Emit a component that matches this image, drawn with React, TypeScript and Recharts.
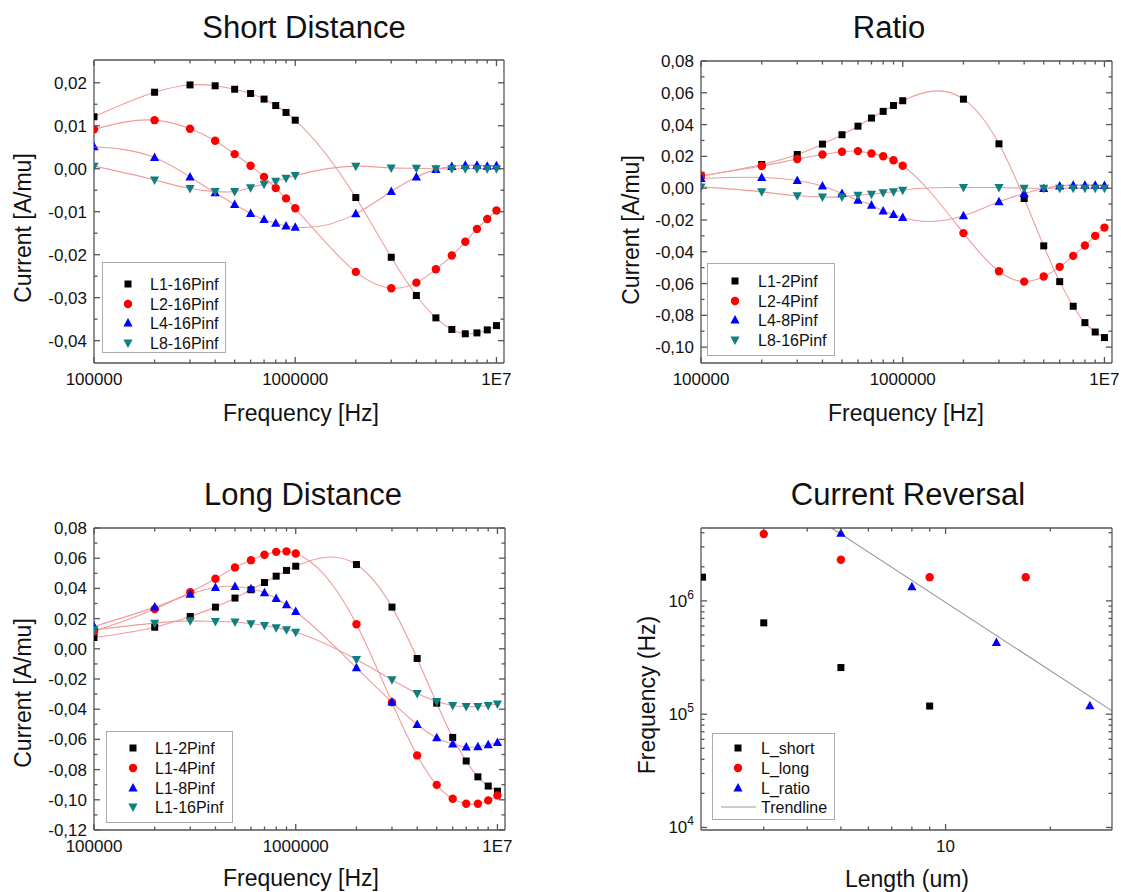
import React from "react";
import { ComposedChart, Line, Scatter, XAxis, YAxis } from "recharts";

const font = '"Liberation Sans", Arial, sans-serif';

const freqs = [
  1e5, 2e5, 3e5, 4e5, 5e5, 6e5, 7e5, 8e5, 9e5,
  1e6, 2e6, 3e6, 4e6, 5e6, 6e6, 7e6, 8e6, 9e6, 1e7,
];

// Short Distance
const shortL1 = [0.0121, 0.0178, 0.0195, 0.0193, 0.0185, 0.0175, 0.0162, 0.0147, 0.0131, 0.0113, -0.0067, -0.0206, -0.0295, -0.0347, -0.0374, -0.0384, -0.0382, -0.0375, -0.0365];
const shortL2 = [0.0092, 0.0113, 0.0093, 0.0065, 0.0034, 0.0007, -0.0019, -0.0045, -0.0069, -0.0092, -0.0240, -0.0278, -0.0265, -0.0234, -0.0202, -0.0170, -0.0140, -0.0117, -0.0097];
const shortL4 = [0.0051, 0.0026, -0.0019, -0.0056, -0.0083, -0.0104, -0.0118, -0.0127, -0.0133, -0.0136, -0.0105, -0.0053, -0.0019, -0.0002, 0.0005, 0.0008, 0.0008, 0.0006, 0.0007];
const shortL8 = [0.0006, -0.0026, -0.0046, -0.0053, -0.0053, -0.0044, -0.0036, -0.0029, -0.0022, -0.0016, 0.0006, 0.0002, 0.0001, 0.0, 0.0, 0.0, 0.0, 0.0, 0.0];

// Ratio
const ratioL1 = [0.0076, 0.0149, 0.0212, 0.0277, 0.0336, 0.039, 0.0441, 0.0483, 0.052, 0.055, 0.056, 0.0279, -0.0065, -0.0363, -0.0588, -0.0743, -0.0846, -0.0905, -0.094];
const ratioL2 = [0.0078, 0.0139, 0.0183, 0.0212, 0.0229, 0.0233, 0.0218, 0.0201, 0.0176, 0.0141, -0.0283, -0.0523, -0.0588, -0.0556, -0.0495, -0.0426, -0.0361, -0.030, -0.0248];
const ratioL4 = [0.0061, 0.0067, 0.0048, 0.0013, -0.0034, -0.0076, -0.0107, -0.0143, -0.0166, -0.0185, -0.0174, -0.0086, -0.0034, -0.0002, 0.0013, 0.0019, 0.0019, 0.0019, 0.0017];
const ratioL8 = [0.0008, -0.0023, -0.0048, -0.0055, -0.0055, -0.0044, -0.0038, -0.0029, -0.0023, -0.0013, 0.0004, 0.0004, 0.0, 0.0, 0.0, 0.0, 0.0, 0.0, 0.0];

// Long Distance
const longL2 = [0.0075, 0.0143, 0.0214, 0.0276, 0.0336, 0.0391, 0.0439, 0.0481, 0.0519, 0.0547, 0.0558, 0.0276, -0.0064, -0.036, -0.0587, -0.0743, -0.0848, -0.0909, -0.0943];
const longL4 = [0.0115, 0.0263, 0.0375, 0.0464, 0.0539, 0.0587, 0.0623, 0.0642, 0.0645, 0.0631, 0.0163, -0.0355, -0.0706, -0.0901, -0.0993, -0.1026, -0.1026, -0.1004, -0.0971];
const longL8 = [0.0148, 0.0276, 0.0362, 0.0406, 0.0413, 0.0397, 0.0371, 0.0333, 0.0291, 0.0247, -0.0126, -0.0353, -0.0501, -0.0589, -0.0631, -0.0651, -0.0649, -0.0636, -0.062];
const longL16 = [0.0126, 0.017, 0.0185, 0.0181, 0.0177, 0.0166, 0.0155, 0.0139, 0.0126, 0.011, -0.0071, -0.0205, -0.0296, -0.0349, -0.0375, -0.0382, -0.0382, -0.0375, -0.0366];

// Current Reversal (length um, frequency Hz)
const revShort = [{ x: 2, y: 1.62e6 }, { x: 3, y: 6.4e5 }, { x: 5, y: 2.58e5 }, { x: 9, y: 1.18e5 }];
const revLong = [{ x: 3, y: 3.9e6 }, { x: 5, y: 2.31e6 }, { x: 9, y: 1.62e6 }, { x: 17, y: 1.62e6 }];
const revRatio = [{ x: 5, y: 3.95e6 }, { x: 8, y: 1.33e6 }, { x: 14, y: 4.3e5 }, { x: 26, y: 1.19e5 }];
const trendline = [{ x: 4.7, y: 4.4e6 }, { x: 30.1, y: 1.07e5 }];

// ticks
const fMajor = [1e5, 1e6, 1e7];
const fMinor = [2e5, 3e5, 4e5, 5e5, 6e5, 7e5, 8e5, 9e5, 2e6, 3e6, 4e6, 5e6, 6e6, 7e6, 8e6, 9e6];
const shortMajor = [-0.04, -0.03, -0.02, -0.01, 0, 0.01, 0.02];
const shortMinor = [-0.035, -0.025, -0.015, -0.005, 0.005, 0.015];
const ratioMajor = [-0.1, -0.08, -0.06, -0.04, -0.02, 0, 0.02, 0.04, 0.06, 0.08];
const ratioMinor = [-0.09, -0.07, -0.05, -0.03, -0.01, 0.01, 0.03, 0.05, 0.07];
const longMajor = [-0.12, -0.1, -0.08, -0.06, -0.04, -0.02, 0, 0.02, 0.04, 0.06, 0.08];
const longMinor = [-0.11, -0.09, -0.07, -0.05, -0.03, -0.01, 0.01, 0.03, 0.05, 0.07];
const lenMajor = [10];
const lenMinor = [3, 4, 5, 6, 7, 8, 9, 20];
const hzMajor = [1e4, 1e5, 1e6];
const hzMinor = [2e4, 3e4, 4e4, 5e4, 6e4, 7e4, 8e4, 9e4, 2e5, 3e5, 4e5, 5e5, 6e5, 7e5, 8e5, 9e5, 2e6, 3e6, 4e6];

const FRAME = "#555";
const FIT = "#ef9c9c";

type Kind = "square" | "circle" | "up" | "down";

const Marker = ({ kind, cx, cy, color }: { kind: Kind; cx?: number; cy?: number; color: string }) => {
  if (cx == null || cy == null || isNaN(cx) || isNaN(cy)) return null;
  if (kind === "square") return <rect x={cx - 3.5} y={cy - 3.5} width={7} height={7} fill={color} />;
  if (kind === "circle") return <circle cx={cx} cy={cy} r={4.2} fill={color} />;
  if (kind === "up")
    return <polygon points={`${cx},${cy - 5} ${cx + 4.6},${cy + 3.5} ${cx - 4.6},${cy + 3.5}`} fill={color} />;
  return <polygon points={`${cx},${cy + 5} ${cx + 4.6},${cy - 3.5} ${cx - 4.6},${cy - 3.5}`} fill={color} />;
};

// cubic spline y(x) through the points (natural end conditions)
const splineX = (context: any) => {
  let xs: number[] = [];
  let ys: number[] = [];
  return {
    areaStart() {},
    areaEnd() {},
    lineStart() {
      xs = [];
      ys = [];
    },
    point(x: number, y: number) {
      xs.push(+x);
      ys.push(+y);
    },
    lineEnd() {
      const n = xs.length;
      if (!n) return;
      context.moveTo(xs[0], ys[0]);
      if (n < 3) {
        for (let i = 1; i < n; i++) context.lineTo(xs[i], ys[i]);
        return;
      }
      const h: number[] = [];
      for (let i = 0; i < n - 1; i++) h.push(xs[i + 1] - xs[i]);
      const M = new Array(n).fill(0);
      const a: number[] = [], b: number[] = [], c: number[] = [], d: number[] = [];
      for (let i = 1; i < n - 1; i++) {
        a.push(h[i - 1]);
        b.push(2 * (h[i - 1] + h[i]));
        c.push(h[i]);
        d.push(6 * ((ys[i + 1] - ys[i]) / h[i] - (ys[i] - ys[i - 1]) / h[i - 1]));
      }
      const m = b.length;
      for (let i = 1; i < m; i++) {
        const w = a[i] / b[i - 1];
        b[i] -= w * c[i - 1];
        d[i] -= w * d[i - 1];
      }
      const sol = new Array(m).fill(0);
      sol[m - 1] = d[m - 1] / b[m - 1];
      for (let i = m - 2; i >= 0; i--) sol[i] = (d[i] - c[i] * sol[i + 1]) / b[i];
      for (let i = 0; i < m; i++) M[i + 1] = sol[i];
      for (let i = 0; i < n - 1; i++) {
        const s = (ys[i + 1] - ys[i]) / h[i];
        const m0 = s - (h[i] * (2 * M[i] + M[i + 1])) / 6;
        const m1 = s + (h[i] * (M[i] + 2 * M[i + 1])) / 6;
        context.bezierCurveTo(
          xs[i] + h[i] / 3, ys[i] + (m0 * h[i]) / 3,
          xs[i + 1] - h[i] / 3, ys[i + 1] - (m1 * h[i]) / 3,
          xs[i + 1], ys[i + 1]
        );
      }
    },
  };
};

const near = (list: number[], v: number) => list.some((t) => Math.abs(t - v) <= Math.abs(t) * 1e-6 + 1e-9);
const comma = (v: number) => (Math.abs(v) < 1e-9 ? 0 : v).toFixed(2).replace(".", ",");
const freqLabel = (v: number) => (v >= 1e7 ? "1E7" : String(Math.round(v)));
const powLabel = (v: number) => (
  <>
    10<tspan dy={-8} fontSize={12}>{Math.round(Math.log10(v))}</tspan>
  </>
);

const makeTick =
  (side: "bottom" | "top" | "left" | "right", majors: number[], label?: (v: number) => React.ReactNode) =>
  (props: any) => {
    const { x, y, payload } = props;
    const v = payload.value;
    const major = near(majors, v);
    const len = major ? 6 : 3.5;
    let line;
    if (side === "bottom") line = <line x1={x} y1={y} x2={x} y2={y - len} />;
    else if (side === "top") line = <line x1={x} y1={y} x2={x} y2={y + len} />;
    else if (side === "left") line = <line x1={x} y1={y} x2={x + len} y2={y} />;
    else line = <line x1={x} y1={y} x2={x - len} y2={y} />;
    return (
      <g>
        <g stroke={FRAME} strokeWidth={1.3}>{line}</g>
        {major && label && side === "bottom" && (
          <text x={x} y={y + 22} textAnchor="middle" fontSize={17} fill="#111" fontFamily={font}>
            {label(v)}
          </text>
        )}
        {major && label && side === "left" && (
          <text x={x - 7} y={y + 6} textAnchor="end" fontSize={17} fill="#111" fontFamily={font}>
            {label(v)}
          </text>
        )}
      </g>
    );
  };

type Series = { key: string; name: string; kind: Kind; color: string; values: number[] };
type LegendItem = { name: string; kind: Kind | "line"; color: string };

const LegendBox = ({ left, top, width, height, rows, markerX, textX, items }: {
  left: number; top: number; width: number; height: number; rows: number[];
  markerX: number; textX: number; items: LegendItem[];
}) => (
  <svg style={{ position: "absolute", left, top }} width={width + 1} height={height + 1}>
    <rect x={0.5} y={0.5} width={width} height={height} fill="#fff" stroke="#aaa" strokeWidth={1} />
    {items.map((it, i) => (
      <g key={it.name}>
        {it.kind === "line" ? (
          <line x1={9} x2={44} y1={rows[i]} y2={rows[i]} stroke={it.color} strokeWidth={1.2} />
        ) : (
          <Marker kind={it.kind} cx={markerX} cy={rows[i]} color={it.color} />
        )}
        <text x={textX} y={rows[i] + 6} fontSize={16} fill="#111" fontFamily={font}>
          {it.name}
        </text>
      </g>
    ))}
  </svg>
);

const Text = ({ x, y, size, children, rotate }: { x: number; y: number; size: number; children: React.ReactNode; rotate?: boolean }) => (
  <div
    style={{
      position: "absolute", left: x, top: y, fontSize: size, fontFamily: font, color: "#111",
      whiteSpace: "nowrap", lineHeight: 1,
      transform: `translate(-50%, -50%)${rotate ? " rotate(-90deg)" : ""}`,
    }}
  >
    {children}
  </div>
);

// axes take 1px each so Recharts still renders them; margins are reduced by that pixel
const inner = (m: { top: number; right: number; bottom: number; left: number }) => ({
  top: m.top - 1, right: m.right - 1, bottom: m.bottom - 1, left: m.left - 1,
});

const FreqPanel = ({ left, top, margin, series, yDomain, yMajor, yMinor }: {
  left: number; top: number; margin: { top: number; right: number; bottom: number; left: number };
  series: Series[]; yDomain: [number, number]; yMajor: number[]; yMinor: number[];
}) => {
  const rows = freqs.map((f, i) => {
    const r: Record<string, number> = { f };
    series.forEach((s) => (r[s.key] = s.values[i]));
    return r;
  });
  const xDomain: [number, number] = [1e5, 1.09e7];
  const fTicks = [...fMajor, ...fMinor];
  const yTicks = [...yMajor, ...yMinor];
  const axisLine = { stroke: FRAME, strokeWidth: 1.3 };
  return (
    <div style={{ position: "absolute", left, top }}>
      <ComposedChart width={560} height={446} data={rows} margin={inner(margin)}>
        <XAxis dataKey="f" type="number" scale="log" domain={xDomain} allowDataOverflow ticks={fTicks}
          interval={0} height={1} tickSize={0} tickMargin={0} axisLine={axisLine} tickLine={false}
          tick={makeTick("bottom", fMajor, freqLabel)} />
        <XAxis xAxisId="top" orientation="top" dataKey="f" type="number" scale="log" domain={xDomain}
          allowDataOverflow ticks={fTicks} interval={0} height={1} tickSize={0} tickMargin={0}
          axisLine={axisLine} tickLine={false} tick={makeTick("top", fMajor)} />
        <YAxis type="number" domain={yDomain} allowDataOverflow ticks={yTicks} interval={0} width={1}
          tickSize={0} tickMargin={0} axisLine={axisLine} tickLine={false} tick={makeTick("left", yMajor, comma)} />
        <YAxis yAxisId="right" orientation="right" type="number" domain={yDomain} allowDataOverflow
          ticks={yTicks} interval={0} width={1} tickSize={0} tickMargin={0} axisLine={axisLine}
          tickLine={false} tick={makeTick("right", yMajor)} />
        {series.map((s) => (
          <Line key={`fit-${s.key}`} dataKey={s.key} type={splineX as any} stroke={FIT} strokeWidth={1.1}
            dot={false} activeDot={false} isAnimationActive={false} />
        ))}
        {series.map((s) => (
          <Line key={`pts-${s.key}`} dataKey={s.key} name={s.name} stroke="none" activeDot={false}
            isAnimationActive={false}
            dot={(p: any) => <Marker key={`${s.key}-${p.index}`} kind={s.kind} cx={p.cx} cy={p.cy} color={s.color} />} />
        ))}
      </ComposedChart>
    </div>
  );
};

const BLACK = "#000000";
const RED = "#ff0000";
const BLUE = "#0000ff";
const TEAL = "#0f8080";

const shortSeries: Series[] = [
  { key: "a", name: "L1-16Pinf", kind: "square", color: BLACK, values: shortL1 },
  { key: "b", name: "L2-16Pinf", kind: "circle", color: RED, values: shortL2 },
  { key: "c", name: "L4-16Pinf", kind: "up", color: BLUE, values: shortL4 },
  { key: "d", name: "L8-16Pinf", kind: "down", color: TEAL, values: shortL8 },
];
const ratioSeries: Series[] = [
  { key: "a", name: "L1-2Pinf", kind: "square", color: BLACK, values: ratioL1 },
  { key: "b", name: "L2-4Pinf", kind: "circle", color: RED, values: ratioL2 },
  { key: "c", name: "L4-8Pinf", kind: "up", color: BLUE, values: ratioL4 },
  { key: "d", name: "L8-16Pinf", kind: "down", color: TEAL, values: ratioL8 },
];
const longSeries: Series[] = [
  { key: "a", name: "L1-2Pinf", kind: "square", color: BLACK, values: longL2 },
  { key: "b", name: "L1-4Pinf", kind: "circle", color: RED, values: longL4 },
  { key: "c", name: "L1-8Pinf", kind: "up", color: BLUE, values: longL8 },
  { key: "d", name: "L1-16Pinf", kind: "down", color: TEAL, values: longL16 },
];

const ReversalPanel = ({ left, top }: { left: number; top: number }) => {
  const axisLine = { stroke: FRAME, strokeWidth: 1.3 };
  const xDomain: [number, number] = [1.98, 30.1];
  const yDomain: [number, number] = [9.5e3, 4.4e6];
  const xTicks = [...lenMajor, ...lenMinor];
  const yTicks = [...hzMajor, ...hzMinor];
  return (
    <div style={{ position: "absolute", left, top }}>
      <ComposedChart width={561} height={446} margin={inner({ top: 82, right: 9, bottom: 62, left: 141 })}>
        <XAxis dataKey="x" type="number" scale="log" domain={xDomain} allowDataOverflow ticks={xTicks}
          interval={0} height={1} tickSize={0} tickMargin={0} axisLine={axisLine} tickLine={false}
          tick={makeTick("bottom", lenMajor, (v) => String(v))} />
        <XAxis xAxisId="top" orientation="top" dataKey="x" type="number" scale="log" domain={xDomain}
          allowDataOverflow ticks={xTicks} interval={0} height={1} tickSize={0} tickMargin={0}
          axisLine={axisLine} tickLine={false} tick={makeTick("top", lenMajor)} />
        <YAxis dataKey="y" type="number" scale="log" domain={yDomain} allowDataOverflow ticks={yTicks}
          interval={0} width={1} tickSize={0} tickMargin={0} axisLine={axisLine} tickLine={false}
          tick={makeTick("left", hzMajor, powLabel)} />
        <YAxis yAxisId="right" orientation="right" dataKey="y" type="number" scale="log" domain={yDomain}
          allowDataOverflow ticks={yTicks} interval={0} width={1} tickSize={0} tickMargin={0}
          axisLine={axisLine} tickLine={false} tick={makeTick("right", hzMajor)} />
        <Line data={trendline} dataKey="y" type="linear" stroke="#9a9a9a" strokeWidth={1.1} dot={false}
          activeDot={false} isAnimationActive={false} />
        <Scatter name="L_short" data={revShort} dataKey="y" isAnimationActive={false}
          shape={(p: any) => <Marker kind="square" cx={p.cx} cy={p.cy} color={BLACK} />} />
        <Scatter name="L_long" data={revLong} dataKey="y" isAnimationActive={false}
          shape={(p: any) => <Marker kind="circle" cx={p.cx} cy={p.cy} color={RED} />} />
        <Scatter name="L_ratio" data={revRatio} dataKey="y" isAnimationActive={false}
          shape={(p: any) => <Marker kind="up" cx={p.cx} cy={p.cy} color={BLUE} />} />
      </ComposedChart>
    </div>
  );
};

const toItems = (s: Series[]): LegendItem[] => s.map((x) => ({ name: x.name, kind: x.kind, color: x.color }));

export default function App() {
  return (
    <div style={{ position: "absolute", left: 0, top: 0, width: 1121, height: 892, background: "#fff", overflow: "hidden" }}>
      <FreqPanel left={0} top={0} margin={{ top: 60, right: 56, bottom: 83, left: 94 }} series={shortSeries}
        yDomain={[-0.0452, 0.0253]} yMajor={shortMajor} yMinor={shortMinor} />
      <FreqPanel left={560} top={0} margin={{ top: 61, right: 8, bottom: 83, left: 141 }} series={ratioSeries}
        yDomain={[-0.11, 0.08]} yMajor={ratioMajor} yMinor={ratioMinor} />
      <FreqPanel left={0} top={446} margin={{ top: 82, right: 55, bottom: 62, left: 94 }} series={longSeries}
        yDomain={[-0.12, 0.08]} yMajor={longMajor} yMinor={longMinor} />
      <ReversalPanel left={560} top={446} />

      <Text x={304} y={27} size={31}>Short Distance</Text>
      <Text x={889} y={27} size={31}>Ratio</Text>
      <Text x={303} y={494} size={31}>Long Distance</Text>
      <Text x={908} y={494} size={31}>Current Reversal</Text>

      <Text x={301} y={413} size={23}>Frequency [Hz]</Text>
      <Text x={906} y={413} size={23}>Frequency [Hz]</Text>
      <Text x={301} y={878} size={23}>Frequency [Hz]</Text>
      <Text x={907} y={879} size={23}>Length (um)</Text>

      <Text x={23} y={228} size={23} rotate>Current [A/mu]</Text>
      <Text x={631} y={230} size={23} rotate>Current [A/mu]</Text>
      <Text x={23} y={693} size={23} rotate>Current [A/mu]</Text>
      <Text x={647} y={695} size={23} rotate>Frequency (Hz)</Text>

      <LegendBox left={102} top={262} width={123} height={90} rows={[22, 42, 61, 81]} markerX={26} textX={48}
        items={toItems(shortSeries)} />
      <LegendBox left={707} top={263} width={127} height={92} rows={[18, 38, 57, 77]} markerX={28} textX={51}
        items={toItems(ratioSeries)} />
      <LegendBox left={106} top={731} width={126} height={91} rows={[17, 37, 57, 76]} markerX={27} textX={49}
        items={toItems(longSeries)} />
      <LegendBox left={712} top={733} width={122} height={86} rows={[15, 35, 55, 74]} markerX={26} textX={49}
        items={[
          { name: "L_short", kind: "square", color: BLACK },
          { name: "L_long", kind: "circle", color: RED },
          { name: "L_ratio", kind: "up", color: BLUE },
          { name: "Trendline", kind: "line", color: "#9a9a9a" },
        ]} />
    </div>
  );
}
